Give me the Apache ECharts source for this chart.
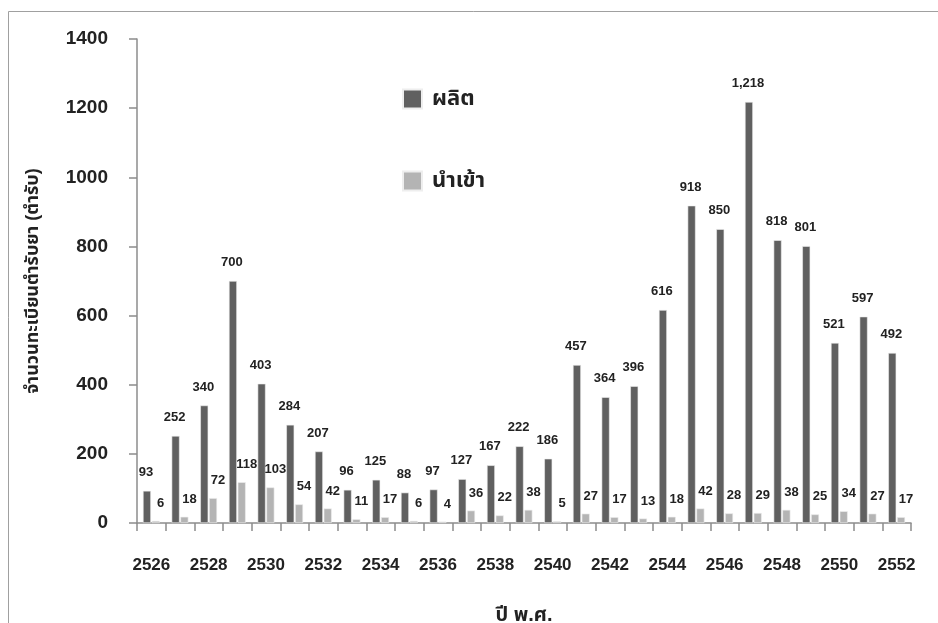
<!DOCTYPE html>
<html>
<head>
<meta charset="utf-8">
<script src="https://cdn.jsdelivr.net/npm/echarts@6/dist/echarts.min.js"></script>
<style>
  html, body { margin: 0; padding: 0; background: #fff; }
  #chart { width: 938px; height: 623px; }
</style>
</head>
<body>
<div id="chart"></div>
<script>
// Thai drug registrations per Buddhist-era year: locally produced vs imported
const years = ['2526','2527','2528','2529','2530','2531','2532','2533','2534','2535','2536','2537','2538','2539','2540','2541','2542','2543','2544','2545','2546','2547','2548','2549','2550','2551','2552'];
const produced = [93, 252, 340, 700, 403, 284, 207, 96, 125, 88, 97, 127, 167, 222, 186, 457, 364, 396, 616, 918, 850, 1218, 818, 801, 521, 597, 492];
const imported = [6, 18, 72, 118, 103, 54, 42, 11, 17, 6, 4, 36, 22, 38, 5, 27, 17, 13, 18, 42, 28, 29, 38, 25, 34, 27, 17];
const yTicks = [0, 200, 400, 600, 800, 1000, 1200, 1400];

const seriesNames = ['ผลิต', 'นำเข้า'];
const FONT = "'Liberation Sans', Arial, 'Noto Sans Thai', 'Noto Sans', sans-serif";
const TXT = '#222';
const AXIS = '#8c8c8c';

const chart = echarts.init(document.getElementById('chart'), null, { renderer: 'canvas' });

const labelFmt = p => p.value >= 1000 ? p.value.toLocaleString('en-US') : String(p.value);

chart.setOption({
  animation: false,
  backgroundColor: '#fff',
  graphic: [{
    type: 'rect',
    shape: { x: 8.5, y: 11.5, width: 1000, height: 700 },
    style: { fill: 'none', stroke: '#a0a0a0', lineWidth: 1 },
    silent: true
  }],
  legend: {
    orient: 'vertical',
    left: 397,
    top: 83,
    itemWidth: 19,
    itemHeight: 19,
    itemGap: 60,
    icon: 'rect',
    textStyle: { fontFamily: FONT, fontWeight: 'bold', fontSize: 22, color: TXT, padding: [0, 0, 0, 5] },
    data: seriesNames
  },
  grid: { left: 137, right: 27, top: 39, bottom: 100, containLabel: false, outerBoundsMode: 'none' },
  xAxis: {
    type: 'category',
    data: years,
    boundaryGap: true,
    name: 'ปี พ.ศ.',
    nameLocation: 'middle',
    nameGap: 82,
    nameTextStyle: { fontFamily: FONT, fontWeight: 'bold', fontSize: 20, color: TXT },
    axisLine: { lineStyle: { color: AXIS, width: 1.5 } },
    axisTick: { show: true, interval: 0, length: 8, alignWithLabel: false, lineStyle: { color: AXIS, width: 1.5 } },
    axisLabel: { interval: 1, margin: 34, fontFamily: FONT, fontWeight: 'bold', fontSize: 17, color: TXT }
  },
  yAxis: {
    type: 'value',
    min: yTicks[0],
    max: yTicks[yTicks.length - 1],
    interval: yTicks[1] - yTicks[0],
    name: 'จำนวนทะเบียนตำรับยา (ตำรับ)',
    nameLocation: 'middle',
    nameGap: 95,
    nameRotate: 90,
    nameTextStyle: { fontFamily: FONT, fontWeight: 'bold', fontSize: 18, color: TXT },
    axisLine: { show: true, lineStyle: { color: AXIS, width: 1.5 } },
    axisTick: { show: true, length: 8, lineStyle: { color: AXIS, width: 1.5 } },
    splitLine: { show: false },
    axisLabel: { margin: 29, formatter: v => String(v), fontFamily: FONT, fontWeight: 'bold', fontSize: 19, color: TXT }
  },
  series: [
    {
      name: seriesNames[0],
      type: 'bar',
      data: produced,
      barWidth: 8,
      barGap: '10%',
      itemStyle: { color: '#606060', borderColor: '#eeeeee', borderWidth: 0.6 },
      label: {
        show: true, position: 'top', distance: 12, offset: [-1, 0],
        formatter: labelFmt,
        fontFamily: FONT, fontWeight: 'bold', fontSize: 13, color: TXT
      }
    },
    {
      name: seriesNames[1],
      type: 'bar',
      data: imported,
      barWidth: 8,
      itemStyle: { color: '#b4b4b4', borderColor: '#eeeeee', borderWidth: 0.6 },
      label: {
        show: true, position: 'top', distance: 11, offset: [5, 0],
        formatter: labelFmt,
        fontFamily: FONT, fontWeight: 'bold', fontSize: 13, color: TXT
      }
    }
  ]
});
</script>
</body>
</html>
